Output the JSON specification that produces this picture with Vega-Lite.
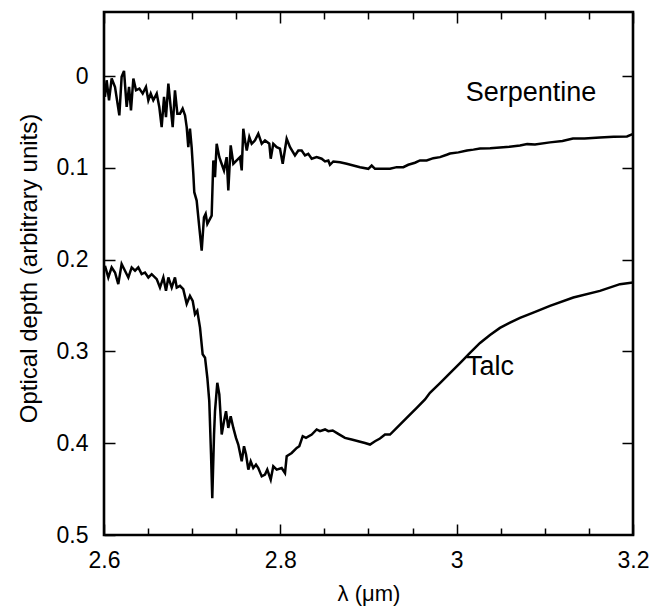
{
  "$schema": "https://vega.github.io/schema/vega-lite/v6.json",
  "width": 529,
  "height": 523,
  "autosize": "none",
  "padding": {"left": 104, "top": 12, "right": 28, "bottom": 72},
  "background": "white",
  "config": {
    "view": {"stroke": "black", "strokeWidth": 2.6},
    "font": "Liberation Sans",
    "axis": {"domain": false, "grid": false, "tickColor": "black", "tickWidth": 1.5, "labelColor": "black", "titleColor": "black", "labelFont": "Liberation Sans", "titleFont": "Liberation Sans", "labelFontSize": 23, "titleFontSize": 23, "titleFontWeight": "normal"}
  },
  "datasets": {
    "spectra": [
      {"series": "Serpentine", "lambda": 2.6011, "tau": 0.0226},
      {"series": "Serpentine", "lambda": 2.6030, "tau": 0.0044},
      {"series": "Serpentine", "lambda": 2.6057, "tau": 0.0262},
      {"series": "Serpentine", "lambda": 2.6087, "tau": 0.0025},
      {"series": "Serpentine", "lambda": 2.6125, "tau": 0.0117},
      {"series": "Serpentine", "lambda": 2.6174, "tau": 0.0426},
      {"series": "Serpentine", "lambda": 2.6200, "tau": 0.0007},
      {"series": "Serpentine", "lambda": 2.6227, "tau": -0.0058},
      {"series": "Serpentine", "lambda": 2.6257, "tau": 0.0335},
      {"series": "Serpentine", "lambda": 2.6284, "tau": 0.0117},
      {"series": "Serpentine", "lambda": 2.6306, "tau": 0.0372},
      {"series": "Serpentine", "lambda": 2.6333, "tau": 0.0025},
      {"series": "Serpentine", "lambda": 2.6363, "tau": 0.0153},
      {"series": "Serpentine", "lambda": 2.6401, "tau": 0.0134},
      {"series": "Serpentine", "lambda": 2.6439, "tau": 0.0189},
      {"series": "Serpentine", "lambda": 2.6476, "tau": 0.0117},
      {"series": "Serpentine", "lambda": 2.6503, "tau": 0.0262},
      {"series": "Serpentine", "lambda": 2.6530, "tau": 0.0189},
      {"series": "Serpentine", "lambda": 2.6559, "tau": 0.0262},
      {"series": "Serpentine", "lambda": 2.6598, "tau": 0.0189},
      {"series": "Serpentine", "lambda": 2.6627, "tau": 0.0335},
      {"series": "Serpentine", "lambda": 2.6654, "tau": 0.0554},
      {"series": "Serpentine", "lambda": 2.6681, "tau": 0.0226},
      {"series": "Serpentine", "lambda": 2.6703, "tau": 0.0445},
      {"series": "Serpentine", "lambda": 2.6730, "tau": 0.0080},
      {"series": "Serpentine", "lambda": 2.6756, "tau": 0.0335},
      {"series": "Serpentine", "lambda": 2.6779, "tau": 0.0554},
      {"series": "Serpentine", "lambda": 2.6805, "tau": 0.0153},
      {"series": "Serpentine", "lambda": 2.6832, "tau": 0.0408},
      {"series": "Serpentine", "lambda": 2.6862, "tau": 0.0408},
      {"series": "Serpentine", "lambda": 2.6892, "tau": 0.0353},
      {"series": "Serpentine", "lambda": 2.6919, "tau": 0.0426},
      {"series": "Serpentine", "lambda": 2.6938, "tau": 0.0554},
      {"series": "Serpentine", "lambda": 2.6956, "tau": 0.0773},
      {"series": "Serpentine", "lambda": 2.6975, "tau": 0.0572},
      {"series": "Serpentine", "lambda": 2.6994, "tau": 0.0773},
      {"series": "Serpentine", "lambda": 2.7013, "tau": 0.1063},
      {"series": "Serpentine", "lambda": 2.7024, "tau": 0.1264},
      {"series": "Serpentine", "lambda": 2.7051, "tau": 0.1355},
      {"series": "Serpentine", "lambda": 2.7081, "tau": 0.1647},
      {"series": "Serpentine", "lambda": 2.7108, "tau": 0.1902},
      {"series": "Serpentine", "lambda": 2.7134, "tau": 0.1537},
      {"series": "Serpentine", "lambda": 2.7153, "tau": 0.1500},
      {"series": "Serpentine", "lambda": 2.7172, "tau": 0.1610},
      {"series": "Serpentine", "lambda": 2.7202, "tau": 0.1555},
      {"series": "Serpentine", "lambda": 2.7221, "tau": 0.1519},
      {"series": "Serpentine", "lambda": 2.7240, "tau": 0.0918},
      {"series": "Serpentine", "lambda": 2.7259, "tau": 0.1100},
      {"series": "Serpentine", "lambda": 2.7278, "tau": 0.0736},
      {"series": "Serpentine", "lambda": 2.7308, "tau": 0.0882},
      {"series": "Serpentine", "lambda": 2.7334, "tau": 0.0954},
      {"series": "Serpentine", "lambda": 2.7361, "tau": 0.1027},
      {"series": "Serpentine", "lambda": 2.7391, "tau": 0.0882},
      {"series": "Serpentine", "lambda": 2.7410, "tau": 0.1246},
      {"series": "Serpentine", "lambda": 2.7437, "tau": 0.0754},
      {"series": "Serpentine", "lambda": 2.7467, "tau": 0.0954},
      {"series": "Serpentine", "lambda": 2.7505, "tau": 0.0918},
      {"series": "Serpentine", "lambda": 2.7542, "tau": 0.0882},
      {"series": "Serpentine", "lambda": 2.7562, "tau": 0.1027},
      {"series": "Serpentine", "lambda": 2.7580, "tau": 0.0572},
      {"series": "Serpentine", "lambda": 2.7599, "tau": 0.0699},
      {"series": "Serpentine", "lambda": 2.7619, "tau": 0.0809},
      {"series": "Serpentine", "lambda": 2.7648, "tau": 0.0663},
      {"series": "Serpentine", "lambda": 2.7675, "tau": 0.0736},
      {"series": "Serpentine", "lambda": 2.7713, "tau": 0.0699},
      {"series": "Serpentine", "lambda": 2.7750, "tau": 0.0626},
      {"series": "Serpentine", "lambda": 2.7789, "tau": 0.0736},
      {"series": "Serpentine", "lambda": 2.7826, "tau": 0.0699},
      {"series": "Serpentine", "lambda": 2.7875, "tau": 0.0736},
      {"series": "Serpentine", "lambda": 2.7891, "tau": 0.0899},
      {"series": "Serpentine", "lambda": 2.7920, "tau": 0.0736},
      {"series": "Serpentine", "lambda": 2.7959, "tau": 0.0773},
      {"series": "Serpentine", "lambda": 2.7996, "tau": 0.0790},
      {"series": "Serpentine", "lambda": 2.8027, "tau": 0.0954},
      {"series": "Serpentine", "lambda": 2.8072, "tau": 0.0681},
      {"series": "Serpentine", "lambda": 2.8110, "tau": 0.0773},
      {"series": "Serpentine", "lambda": 2.8166, "tau": 0.0863},
      {"series": "Serpentine", "lambda": 2.8204, "tau": 0.0809},
      {"series": "Serpentine", "lambda": 2.8242, "tau": 0.0809},
      {"series": "Serpentine", "lambda": 2.8280, "tau": 0.0863},
      {"series": "Serpentine", "lambda": 2.8317, "tau": 0.0845},
      {"series": "Serpentine", "lambda": 2.8356, "tau": 0.0899},
      {"series": "Serpentine", "lambda": 2.8412, "tau": 0.0882},
      {"series": "Serpentine", "lambda": 2.8469, "tau": 0.0899},
      {"series": "Serpentine", "lambda": 2.8507, "tau": 0.0929},
      {"series": "Serpentine", "lambda": 2.8544, "tau": 0.0918},
      {"series": "Serpentine", "lambda": 2.8563, "tau": 0.0965},
      {"series": "Serpentine", "lambda": 2.8601, "tau": 0.0929},
      {"series": "Serpentine", "lambda": 2.8677, "tau": 0.0937},
      {"series": "Serpentine", "lambda": 2.8753, "tau": 0.0954},
      {"series": "Serpentine", "lambda": 2.8828, "tau": 0.0973},
      {"series": "Serpentine", "lambda": 2.8904, "tau": 0.0991},
      {"series": "Serpentine", "lambda": 2.8998, "tau": 0.1009},
      {"series": "Serpentine", "lambda": 2.9036, "tau": 0.0973},
      {"series": "Serpentine", "lambda": 2.9074, "tau": 0.1009},
      {"series": "Serpentine", "lambda": 2.9168, "tau": 0.1009},
      {"series": "Serpentine", "lambda": 2.9244, "tau": 0.1009},
      {"series": "Serpentine", "lambda": 2.9320, "tau": 0.0991},
      {"series": "Serpentine", "lambda": 2.9395, "tau": 0.0991},
      {"series": "Serpentine", "lambda": 2.9451, "tau": 0.0965},
      {"series": "Serpentine", "lambda": 2.9527, "tau": 0.0943},
      {"series": "Serpentine", "lambda": 2.9584, "tau": 0.0918},
      {"series": "Serpentine", "lambda": 2.9660, "tau": 0.0918},
      {"series": "Serpentine", "lambda": 2.9735, "tau": 0.0893},
      {"series": "Serpentine", "lambda": 2.9811, "tau": 0.0882},
      {"series": "Serpentine", "lambda": 2.9887, "tau": 0.0856},
      {"series": "Serpentine", "lambda": 2.9924, "tau": 0.0842},
      {"series": "Serpentine", "lambda": 3.0020, "tau": 0.0830},
      {"series": "Serpentine", "lambda": 3.0117, "tau": 0.0809},
      {"series": "Serpentine", "lambda": 3.0190, "tau": 0.0800},
      {"series": "Serpentine", "lambda": 3.0265, "tau": 0.0787},
      {"series": "Serpentine", "lambda": 3.0380, "tau": 0.0785},
      {"series": "Serpentine", "lambda": 3.0491, "tau": 0.0776},
      {"series": "Serpentine", "lambda": 3.0600, "tau": 0.0768},
      {"series": "Serpentine", "lambda": 3.0718, "tau": 0.0754},
      {"series": "Serpentine", "lambda": 3.0800, "tau": 0.0740},
      {"series": "Serpentine", "lambda": 3.0888, "tau": 0.0743},
      {"series": "Serpentine", "lambda": 3.1058, "tau": 0.0721},
      {"series": "Serpentine", "lambda": 3.1200, "tau": 0.0705},
      {"series": "Serpentine", "lambda": 3.1319, "tau": 0.0678},
      {"series": "Serpentine", "lambda": 3.1450, "tau": 0.0680},
      {"series": "Serpentine", "lambda": 3.1625, "tau": 0.0667},
      {"series": "Serpentine", "lambda": 3.1780, "tau": 0.0660},
      {"series": "Serpentine", "lambda": 3.1932, "tau": 0.0656},
      {"series": "Serpentine", "lambda": 3.1988, "tau": 0.0634},
      {"series": "Serpentine", "lambda": 3.2000, "tau": 0.0630},
      {"series": "Talc", "lambda": 2.6011, "tau": 0.2066},
      {"series": "Talc", "lambda": 2.6049, "tau": 0.2193},
      {"series": "Talc", "lambda": 2.6087, "tau": 0.2084},
      {"series": "Talc", "lambda": 2.6125, "tau": 0.2139},
      {"series": "Talc", "lambda": 2.6162, "tau": 0.2266},
      {"series": "Talc", "lambda": 2.6200, "tau": 0.2047},
      {"series": "Talc", "lambda": 2.6238, "tau": 0.2120},
      {"series": "Talc", "lambda": 2.6276, "tau": 0.2193},
      {"series": "Talc", "lambda": 2.6314, "tau": 0.2084},
      {"series": "Talc", "lambda": 2.6352, "tau": 0.2120},
      {"series": "Talc", "lambda": 2.6389, "tau": 0.2084},
      {"series": "Talc", "lambda": 2.6427, "tau": 0.2157},
      {"series": "Talc", "lambda": 2.6465, "tau": 0.2139},
      {"series": "Talc", "lambda": 2.6503, "tau": 0.2193},
      {"series": "Talc", "lambda": 2.6541, "tau": 0.2157},
      {"series": "Talc", "lambda": 2.6598, "tau": 0.2211},
      {"series": "Talc", "lambda": 2.6635, "tau": 0.2303},
      {"series": "Talc", "lambda": 2.6673, "tau": 0.2193},
      {"series": "Talc", "lambda": 2.6703, "tau": 0.2339},
      {"series": "Talc", "lambda": 2.6730, "tau": 0.2193},
      {"series": "Talc", "lambda": 2.6768, "tau": 0.2303},
      {"series": "Talc", "lambda": 2.6805, "tau": 0.2193},
      {"series": "Talc", "lambda": 2.6825, "tau": 0.2303},
      {"series": "Talc", "lambda": 2.6862, "tau": 0.2284},
      {"series": "Talc", "lambda": 2.6899, "tau": 0.2320},
      {"series": "Talc", "lambda": 2.6938, "tau": 0.2480},
      {"series": "Talc", "lambda": 2.6975, "tau": 0.2393},
      {"series": "Talc", "lambda": 2.7006, "tau": 0.2448},
      {"series": "Talc", "lambda": 2.7032, "tau": 0.2594},
      {"series": "Talc", "lambda": 2.7058, "tau": 0.2557},
      {"series": "Talc", "lambda": 2.7089, "tau": 0.2740},
      {"series": "Talc", "lambda": 2.7119, "tau": 0.3031},
      {"series": "Talc", "lambda": 2.7146, "tau": 0.3068},
      {"series": "Talc", "lambda": 2.7172, "tau": 0.3286},
      {"series": "Talc", "lambda": 2.7194, "tau": 0.3541},
      {"series": "Talc", "lambda": 2.7214, "tau": 0.4123},
      {"series": "Talc", "lambda": 2.7228, "tau": 0.4598},
      {"series": "Talc", "lambda": 2.7248, "tau": 0.3905},
      {"series": "Talc", "lambda": 2.7259, "tau": 0.3650},
      {"series": "Talc", "lambda": 2.7285, "tau": 0.3341},
      {"series": "Talc", "lambda": 2.7308, "tau": 0.3468},
      {"series": "Talc", "lambda": 2.7335, "tau": 0.3905},
      {"series": "Talc", "lambda": 2.7361, "tau": 0.3760},
      {"series": "Talc", "lambda": 2.7384, "tau": 0.3650},
      {"series": "Talc", "lambda": 2.7410, "tau": 0.3833},
      {"series": "Talc", "lambda": 2.7437, "tau": 0.3705},
      {"series": "Talc", "lambda": 2.7467, "tau": 0.3833},
      {"series": "Talc", "lambda": 2.7497, "tau": 0.3942},
      {"series": "Talc", "lambda": 2.7523, "tau": 0.4014},
      {"series": "Talc", "lambda": 2.7562, "tau": 0.4197},
      {"series": "Talc", "lambda": 2.7588, "tau": 0.4033},
      {"series": "Talc", "lambda": 2.7611, "tau": 0.4123},
      {"series": "Talc", "lambda": 2.7637, "tau": 0.4287},
      {"series": "Talc", "lambda": 2.7664, "tau": 0.4197},
      {"series": "Talc", "lambda": 2.7693, "tau": 0.4270},
      {"series": "Talc", "lambda": 2.7724, "tau": 0.4233},
      {"series": "Talc", "lambda": 2.7750, "tau": 0.4270},
      {"series": "Talc", "lambda": 2.7789, "tau": 0.4361},
      {"series": "Talc", "lambda": 2.7826, "tau": 0.4342},
      {"series": "Talc", "lambda": 2.7852, "tau": 0.4287},
      {"series": "Talc", "lambda": 2.7891, "tau": 0.4397},
      {"series": "Talc", "lambda": 2.7920, "tau": 0.4251},
      {"series": "Talc", "lambda": 2.7959, "tau": 0.4287},
      {"series": "Talc", "lambda": 2.8015, "tau": 0.4270},
      {"series": "Talc", "lambda": 2.8053, "tau": 0.4325},
      {"series": "Talc", "lambda": 2.8072, "tau": 0.4142},
      {"series": "Talc", "lambda": 2.8129, "tau": 0.4106},
      {"series": "Talc", "lambda": 2.8186, "tau": 0.4051},
      {"series": "Talc", "lambda": 2.8215, "tau": 0.4033},
      {"series": "Talc", "lambda": 2.8254, "tau": 0.3923},
      {"series": "Talc", "lambda": 2.8291, "tau": 0.3942},
      {"series": "Talc", "lambda": 2.8356, "tau": 0.3905},
      {"series": "Talc", "lambda": 2.8412, "tau": 0.3850},
      {"series": "Talc", "lambda": 2.8450, "tau": 0.3869},
      {"series": "Talc", "lambda": 2.8507, "tau": 0.3850},
      {"series": "Talc", "lambda": 2.8544, "tau": 0.3869},
      {"series": "Talc", "lambda": 2.8594, "tau": 0.3861},
      {"series": "Talc", "lambda": 2.8657, "tau": 0.3898},
      {"series": "Talc", "lambda": 2.8733, "tau": 0.3942},
      {"series": "Talc", "lambda": 2.8809, "tau": 0.3960},
      {"series": "Talc", "lambda": 2.8884, "tau": 0.3978},
      {"series": "Talc", "lambda": 2.8960, "tau": 0.3997},
      {"series": "Talc", "lambda": 2.9017, "tau": 0.4014},
      {"series": "Talc", "lambda": 2.9074, "tau": 0.3978},
      {"series": "Talc", "lambda": 2.9130, "tau": 0.3949},
      {"series": "Talc", "lambda": 2.9187, "tau": 0.3905},
      {"series": "Talc", "lambda": 2.9244, "tau": 0.3905},
      {"series": "Talc", "lambda": 2.9320, "tau": 0.3833},
      {"series": "Talc", "lambda": 2.9433, "tau": 0.3723},
      {"series": "Talc", "lambda": 2.9547, "tau": 0.3614},
      {"series": "Talc", "lambda": 2.9641, "tau": 0.3522},
      {"series": "Talc", "lambda": 2.9697, "tau": 0.3450},
      {"series": "Talc", "lambda": 2.9811, "tau": 0.3344},
      {"series": "Talc", "lambda": 2.9924, "tau": 0.3235},
      {"series": "Talc", "lambda": 3.0038, "tau": 0.3126},
      {"series": "Talc", "lambda": 3.0151, "tau": 0.3016},
      {"series": "Talc", "lambda": 3.0265, "tau": 0.2907},
      {"series": "Talc", "lambda": 3.0378, "tau": 0.2820},
      {"series": "Talc", "lambda": 3.0491, "tau": 0.2743},
      {"series": "Talc", "lambda": 3.0605, "tau": 0.2685},
      {"series": "Talc", "lambda": 3.0718, "tau": 0.2634},
      {"series": "Talc", "lambda": 3.0869, "tau": 0.2576},
      {"series": "Talc", "lambda": 3.1058, "tau": 0.2503},
      {"series": "Talc", "lambda": 3.1323, "tau": 0.2412},
      {"series": "Talc", "lambda": 3.1625, "tau": 0.2339},
      {"series": "Talc", "lambda": 3.1852, "tau": 0.2266},
      {"series": "Talc", "lambda": 3.2000, "tau": 0.2248}
    ],
    "labels": [
      {"name": "Serpentine", "lambda": 3.0843, "tau": 0.0186},
      {"name": "Talc", "lambda": 3.0378, "tau": 0.317}
    ]
  },
  "layer": [
    {
      "data": {"name": "spectra"},
      "mark": {"type": "line", "color": "black", "strokeWidth": 2.5, "clip": true},
      "encoding": {
        "x": {
          "field": "lambda", "type": "quantitative",
          "scale": {"domain": [2.6, 3.2], "nice": false, "zero": false},
          "axis": {
            "orient": "bottom", "title": "λ (μm)",
            "values": [2.6, 2.65, 2.7, 2.75, 2.8, 2.85, 2.9, 2.95, 3.0, 3.05, 3.1, 3.15, 3.2],
            "labelExpr": "abs(datum.value*5 - round(datum.value*5)) < 0.001 ? format(datum.value, '~g') : ''",
            "tickSize": {"condition": {"test": "abs(datum.value*5 - round(datum.value*5)) < 0.001", "value": -11}, "value": -7},
            "labelPadding": 25, "labelFlush": false, "labelOverlap": false, "titlePadding": 7, "titleFontSize": 22
          }
        },
        "y": {
          "field": "tau", "type": "quantitative",
          "scale": {"domain": [-0.07, 0.5], "nice": false, "zero": false, "reverse": true},
          "axis": {
            "orient": "left", "title": "Optical depth (arbitrary units)",
            "values": [0, 0.1, 0.2, 0.3, 0.4, 0.5],
            "labelExpr": "format(datum.value, '~g')",
            "tickSize": -11, "labelPadding": 27, "labelFlush": false, "labelOverlap": false, "titlePadding": 15, "titleY": 256, "titleFontSize": 24
          }
        },
        "detail": {"field": "series"}
      }
    },
    {
      "data": {"name": "labels"},
      "mark": {"type": "text", "font": "Liberation Sans", "fontSize": 27, "color": "black", "align": "center", "baseline": "middle"},
      "encoding": {
        "x": {
          "field": "lambda", "type": "quantitative",
          "axis": {
            "orient": "top", "title": null, "labels": false,
            "values": [2.6, 2.65, 2.7, 2.75, 2.8, 2.85, 2.9, 2.95, 3.0, 3.05, 3.1, 3.15, 3.2],
            "tickSize": {"condition": {"test": "abs(datum.value*5 - round(datum.value*5)) < 0.001", "value": -11}, "value": -7}
          }
        },
        "y": {
          "field": "tau", "type": "quantitative",
          "axis": {"orient": "right", "title": null, "labels": false, "values": [0, 0.1, 0.2, 0.3, 0.4], "tickSize": -11}
        },
        "text": {"field": "name"}
      }
    }
  ],
  "resolve": {"axis": {"x": "independent", "y": "independent"}}
}
